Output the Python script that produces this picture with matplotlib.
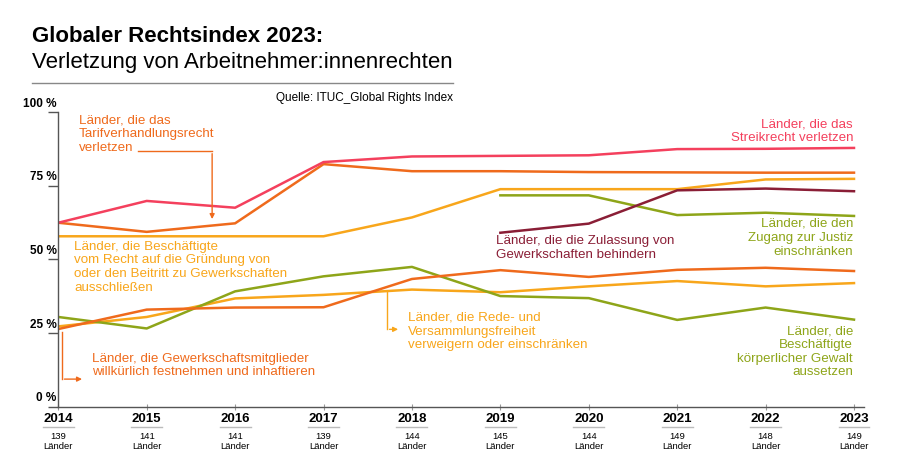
import matplotlib
matplotlib.use("Agg")
import matplotlib.pyplot as plt
import matplotlib.transforms as mtransforms

plt.rcParams['font.family'] = ['Liberation Sans', 'DejaVu Sans']

# Data (share of countries in %)
years = [2014, 2015, 2016, 2017, 2018, 2019, 2020, 2021, 2022, 2023]
countries = [139, 141, 141, 139, 144, 145, 144, 149, 148, 149]

streik = [62.4, 69.8, 67.5, 83.0, 84.9, 85.1, 85.3, 87.4, 87.5, 87.8]
tarif = [62.4, 59.3, 62.2, 82.3, 79.9, 79.9, 79.6, 79.5, 79.4, 79.4]
ausschluss = [57.8, 57.8, 57.8, 57.8, 64.2, 73.8, 73.8, 73.8, 77.1, 77.3]
festnahme = [26.3, 32.9, 33.6, 33.7, 43.3, 46.3, 44.0, 46.4, 47.1, 46.0]
rede = [27.2, 30.4, 36.7, 37.9, 39.7, 38.8, 40.8, 42.6, 40.8, 41.9]
gewalt = [30.4, 26.5, 39.1, 44.2, 47.4, 37.5, 36.8, 29.4, 33.6, 29.5]

years_new = [2019, 2020, 2021, 2022, 2023]
justiz = [71.7, 71.7, 65.0, 65.8, 64.7]
zulassung = [59.0, 62.1, 73.4, 74.0, 73.1]

PINK = '#f4405d'
ORANGE = '#ef6a1c'
YELLOW = '#f8a61b'
GREEN = '#8ea519'
DARKRED = '#8a1e36'

fig = plt.figure(figsize=(9, 4.73), dpi=100)
ax = fig.add_axes([58.3 / 900, 66.5 / 473, (864 - 58.3) / 900, 294.5 / 473])

lw = 1.8
ax.plot(years, ausschluss, color=YELLOW, lw=lw)
ax.plot(years, rede, color=YELLOW, lw=lw)
ax.plot(years, gewalt, color=GREEN, lw=lw)
ax.plot(years_new, justiz, color=GREEN, lw=lw)
ax.plot(years, festnahme, color=ORANGE, lw=lw)
ax.plot(years, tarif, color=ORANGE, lw=lw)
ax.plot(years_new, zulassung, color=DARKRED, lw=lw)
ax.plot(years, streik, color=PINK, lw=lw)

ax.set_xlim(2014, 2023 + 10 / 88.4)
ax.set_ylim(0, 100)
for s in ['top', 'right']:
    ax.spines[s].set_visible(False)
for s in ['left', 'bottom']:
    ax.spines[s].set_color('#555555')
    ax.spines[s].set_linewidth(1)

ax.set_yticks([0, 25, 50, 75, 100])
ax.set_yticklabels([])
ax.tick_params(axis='y', length=7, width=1, color='#555555', direction='out')
ax.set_xticks(years)
ax.set_xticklabels([])
ax.tick_params(axis='x', length=5, width=0.8, color='#999999', direction='inout')

for v in [0, 25, 50, 75, 100]:
    ax.text(-0.002, v + 0.8, f'{v} %', transform=mtransforms.blended_transform_factory(ax.transAxes, ax.transData),
            ha='right', va='bottom', fontsize=8.5, fontweight='bold')

trans = mtransforms.blended_transform_factory(ax.transData, ax.transAxes)
for y, n in zip(years, countries):
    ax.text(y, -0.041, str(y), transform=trans, ha='center', va='center',
            fontsize=9.5, fontweight='bold')
    ax.plot([y - 0.175, y + 0.175], [-0.07, -0.07], transform=trans, color='#bbbbbb',
            lw=1, clip_on=False)
    ax.text(y, -0.118, f'{n}\nLänder', transform=trans, ha='center', va='center',
            fontsize=6.8, linespacing=1.15)

# Labels
fs = 9.6
ls = 1.2
ax.text(2014.235, 92.4, 'Länder, die das\nTarifverhandlungsrecht\nverletzen', color=ORANGE,
        fontsize=fs, ha='left', va='center', linespacing=ls)
ax.text(2014.178, 47.3, 'Länder, die Beschäftigte\nvom Recht auf die Gründung von\n'
        'oder den Beitritt zu Gewerkschaften\nausschließen', color=YELLOW,
        fontsize=fs, ha='left', va='center', linespacing=ls)
ax.text(2014.378, 13.9, 'Länder, die Gewerkschaftsmitglieder\nwillkürlich festnehmen und inhaftieren',
        color=ORANGE, fontsize=fs, ha='left', va='center', linespacing=ls)
ax.text(2017.95, 25.4, 'Länder, die Rede- und\nVersammlungsfreiheit\nverweigern oder einschränken',
        color=YELLOW, fontsize=fs, ha='left', va='center', linespacing=ls)
ax.text(2022.99, 93.5, 'Länder, die das\nStreikrecht verletzen', color=PINK,
        fontsize=fs, ha='right', va='center', linespacing=ls)
ax.text(2018.95, 53.7, 'Länder, die die Zulassung von\nGewerkschaften behindern', color=DARKRED,
        fontsize=fs, ha='left', va='center', linespacing=ls)
ax.text(2022.99, 57.3, 'Länder, die den\nZugang zur Justiz\neinschränken', color=GREEN,
        fontsize=fs, ha='right', va='center', linespacing=ls)
ax.text(2022.99, 18.6, 'Länder, die\nBeschäftigte\nkörperlicher Gewalt\naussetzen', color=GREEN,
        fontsize=fs, ha='right', va='center', linespacing=ls)

# Pointer arrows
ax.plot([2014.90, 2015.74], [86.8, 86.8], color=ORANGE, lw=1)
ax.annotate('', xy=(2015.74, 62.7), xytext=(2015.74, 86.8),
            arrowprops=dict(arrowstyle='-|>', color=ORANGE, lw=1, mutation_scale=7))
ax.plot([2014.038, 2014.038], [25.4, 9.3], color=ORANGE, lw=1, clip_on=False)
ax.annotate('', xy=(2014.30, 9.3), xytext=(2014.038, 9.3),
            arrowprops=dict(arrowstyle='-|>', color=ORANGE, lw=1, mutation_scale=7))
ax.plot([2017.715, 2017.715], [39.2, 26.2], color=YELLOW, lw=1)
ax.annotate('', xy=(2017.875, 26.2), xytext=(2017.715, 26.2),
            arrowprops=dict(arrowstyle='-|>', color=YELLOW, lw=1, mutation_scale=7))

# Header
fig.text(32 / 900, 1 - 42 / 473, 'Globaler Rechtsindex 2023:', fontsize=16, fontweight='bold',
         ha='left', va='baseline')
fig.text(32 / 900, 1 - 68 / 473, 'Verletzung von Arbeitnehmer:innenrechten', fontsize=16,
         ha='left', va='baseline')
fig.add_artist(plt.Line2D([32 / 900, 453 / 900], [1 - 83.5 / 473, 1 - 83.5 / 473],
                          color='#888888', lw=1))
fig.text(453 / 900, 1 - 101 / 473, 'Quelle: ITUC_Global Rights Index', fontsize=8.5,
         ha='right', va='baseline')

plt.savefig('out.png', dpi=100)
